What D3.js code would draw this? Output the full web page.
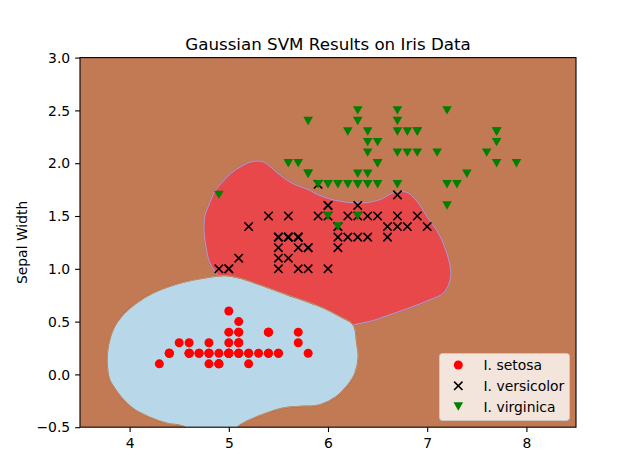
<!DOCTYPE html>
<html>
<head>
<meta charset="utf-8">
<script src="https://cdnjs.cloudflare.com/ajax/libs/d3/7.8.5/d3.min.js"></script>
<style>
html,body{margin:0;padding:0;background:#fff;}
svg{display:block;font-family:"DejaVu Sans",sans-serif;}
</style>
</head>
<body>
<div id="chart"></div>
<script>
// ---- data (x = sepal length, y = petal width) ----
const setosaX = [5.1,4.9,4.7,4.6,5.0,5.4,4.6,5.0,4.4,4.9,5.4,4.8,4.8,4.3,5.8,5.7,5.4,5.1,5.7,5.1,5.4,5.1,4.6,5.1,4.8,5.0,5.0,5.2,5.2,4.7,4.8,5.4,5.2,5.5,4.9,5.0,5.5,4.9,4.4,5.1,5.0,4.5,4.4,5.0,5.1,4.8,5.1,4.6,5.3,5.0];
const setosaY = [0.2,0.2,0.2,0.2,0.2,0.4,0.3,0.2,0.2,0.1,0.2,0.2,0.1,0.1,0.2,0.4,0.4,0.3,0.3,0.3,0.2,0.4,0.2,0.5,0.2,0.2,0.4,0.2,0.2,0.2,0.2,0.4,0.1,0.2,0.1,0.2,0.2,0.1,0.2,0.2,0.3,0.3,0.2,0.6,0.4,0.3,0.2,0.2,0.2,0.2];
const versicolorX = [7.0,6.4,6.9,5.5,6.5,5.7,6.3,4.9,6.6,5.2,5.0,5.9,6.0,6.1,5.6,6.7,5.6,5.8,6.2,5.6,5.9,6.1,6.3,6.1,6.4,6.6,6.8,6.7,6.0,5.7,5.5,5.5,5.8,6.0,5.4,6.0,6.7,6.3,5.6,5.5,5.5,6.1,5.8,5.0,5.6,5.7,5.7,6.2,5.1,5.7];
const versicolorY = [1.4,1.5,1.5,1.3,1.5,1.3,1.6,1.0,1.3,1.4,1.0,1.5,1.0,1.4,1.3,1.4,1.5,1.0,1.5,1.1,1.8,1.3,1.5,1.2,1.3,1.4,1.4,1.7,1.5,1.0,1.1,1.0,1.2,1.6,1.5,1.6,1.5,1.3,1.3,1.3,1.2,1.4,1.2,1.0,1.3,1.2,1.3,1.3,1.1,1.3];
const virginicaX = [6.3,5.8,7.1,6.3,6.5,7.6,4.9,7.3,6.7,7.2,6.5,6.4,6.8,5.7,5.8,6.4,6.5,7.7,7.7,6.0,6.9,5.6,7.7,6.3,6.7,7.2,6.2,6.1,6.4,7.2,7.4,7.9,6.4,6.3,6.1,7.7,6.3,6.4,6.0,6.9,6.7,6.9,5.8,6.8,6.7,6.7,6.3,6.5,6.2,5.9];
const virginicaY = [2.5,1.9,2.1,1.8,2.2,2.1,1.7,1.8,1.8,2.5,2.0,1.9,2.1,2.0,2.4,2.3,1.8,2.2,2.3,1.5,2.3,2.0,2.0,1.8,2.1,1.8,1.8,1.8,2.1,1.6,1.9,2.0,2.2,1.5,1.4,2.3,2.4,1.8,1.8,2.1,2.4,2.3,1.9,2.3,2.5,2.3,1.9,2.0,2.3,1.8];

// ---- decision regions (boundary vertices, data units) ----
const setosaRegionX = [4.556,4.371,4.185,4.051,3.967,3.882,3.798,3.775,3.775,3.798,3.848,3.916,4.068,4.235,4.455,4.657,4.859,4.960,5.111,5.280,5.447,5.616,5.785,5.953,6.121,6.256,6.290,6.306,6.273,6.189,6.088,5.919,5.684,5.548,5.381,5.212,5.091,5.05,4.6];
const setosaRegionY = [-0.50,-0.462,-0.399,-0.336,-0.272,-0.177,-0.051,0.075,0.202,0.328,0.454,0.549,0.676,0.771,0.850,0.897,0.928,0.935,0.913,0.859,0.802,0.745,0.691,0.629,0.549,0.470,0.297,0.170,0.012,-0.115,-0.210,-0.288,-0.305,-0.320,-0.367,-0.431,-0.50,-0.6,-0.6];
const versicolorRegionX = [4.929,4.808,4.775,4.751,4.758,4.808,4.859,4.942,5.027,5.128,5.229,5.346,5.431,5.532,5.667,5.801,5.919,6.121,6.357,6.525,6.660,6.795,6.896,6.997,7.131,7.232,7.232,7.165,7.030,6.862,6.626,6.424,6.256,6.020,5.010];
const versicolorRegionY = [0.878,1.056,1.182,1.340,1.498,1.625,1.735,1.830,1.909,1.972,2.014,2.014,1.957,1.877,1.798,1.751,1.694,1.640,1.625,1.656,1.720,1.725,1.640,1.498,1.308,1.023,0.897,0.771,0.707,0.644,0.565,0.502,0.470,0.423,0.710];

const xTicks = [4,5,6,7,8];
const yTicks = [-0.5,0.0,0.5,1.0,1.5,2.0,2.5,3.0];
const legendLabels = ["I. setosa","I. versicolor","I. virginica"];

// ---- layout ----
const W = 640, H = 450;
const L = 80, R = 576, T = 57.6, B = 427.2;
const x = d3.scaleLinear().domain([3.5, 8.5]).range([L, R]);
const y = d3.scaleLinear().domain([-0.5, 3.0]).range([B, T]);

const svg = d3.select("#chart").append("svg").attr("width", W).attr("height", H);
svg.append("rect").attr("width", W).attr("height", H).attr("fill", "#fff");

svg.append("defs").append("clipPath").attr("id", "clip")
  .append("rect").attr("x", L).attr("y", T).attr("width", R - L).attr("height", B - T);

const plot = svg.append("g").attr("clip-path", "url(#clip)");
// virginica region = background
plot.append("rect").attr("x", L).attr("y", T).attr("width", R - L).attr("height", B - T).attr("fill", "#c17a53");

const poly = d3.line().x(d => x(d[0])).y(d => y(d[1])).curve(d3.curveCatmullRomClosed.alpha(0.5));

const redPts = versicolorRegionX.map((v, i) => [v, versicolorRegionY[i]]);
const bluePts = setosaRegionX.map((v, i) => [v, setosaRegionY[i]]);

plot.append("path").attr("d", poly(redPts)).attr("fill", "#e9484a")
  .attr("stroke", "#9a6a9a").attr("stroke-width", 1.6);
plot.append("path").attr("d", poly(redPts)).attr("fill", "none")
  .attr("stroke", "#efb0b8").attr("stroke-width", 0.6);
plot.append("path").attr("d", poly(bluePts)).attr("fill", "#b8d8e9")
  .attr("stroke", "#b0553a").attr("stroke-width", 1.4);
plot.append("path").attr("d", poly(bluePts)).attr("fill", "none")
  .attr("stroke", "#d8d89a").attr("stroke-width", 0.5);

// ---- points ----
const pts = plot.append("g");
pts.selectAll("circle.s").data(setosaX.map((v, i) => [v, setosaY[i]])).enter()
  .append("circle").attr("cx", d => x(d[0])).attr("cy", d => y(d[1])).attr("r", 4.5).attr("fill", "#ff0000");

const xs = 4.2;
pts.selectAll("path.v").data(versicolorX.map((v, i) => [v, versicolorY[i]])).enter()
  .append("path")
  .attr("d", d => { const cx = x(d[0]), cy = y(d[1]);
    return `M${cx-xs},${cy-xs}L${cx+xs},${cy+xs}M${cx-xs},${cy+xs}L${cx+xs},${cy-xs}`; })
  .attr("stroke", "#000").attr("stroke-width", 1.6).attr("fill", "none");

const tw = 4.8, th = 4.2;
pts.selectAll("path.g").data(virginicaX.map((v, i) => [v, virginicaY[i]])).enter()
  .append("path")
  .attr("d", d => { const cx = x(d[0]), cy = y(d[1]);
    return `M${cx-tw},${cy-th}L${cx+tw},${cy-th}L${cx},${cy+th}Z`; })
  .attr("fill", "#008000");

// ---- axes ----
const fs = 13.9;
const xAxis = svg.append("g").attr("transform", `translate(0,${B})`)
  .call(d3.axisBottom(x).tickValues(xTicks).tickFormat(d3.format("d")).tickSize(4.9).tickPadding(6));
const yAxis = svg.append("g").attr("transform", `translate(${L},0)`)
  .call(d3.axisLeft(y).tickValues(yTicks).tickFormat(d => d3.format(".1f")(d).replace("-", "\u2212")).tickSize(4.9).tickPadding(4.9));
[xAxis, yAxis].forEach(a => {
  a.select(".domain").remove();
  a.selectAll("line").attr("stroke", "#000").attr("stroke-width", 1.1);
  a.selectAll("text").attr("font-size", fs).attr("font-family", "DejaVu Sans").attr("fill", "#000");
});
yAxis.selectAll("text").attr("dy", "0.34em");

svg.append("rect").attr("x", L).attr("y", T).attr("width", R - L).attr("height", B - T)
  .attr("fill", "none").attr("stroke", "#000").attr("stroke-width", 1.1);

// ---- title & label ----
svg.append("text").attr("x", (L + R) / 2).attr("y", 49.5).attr("text-anchor", "middle")
  .attr("font-size", 16.7).text("Gaussian SVM Results on Iris Data");
svg.append("text").attr("transform", `translate(27,${(T + B) / 2}) rotate(-90)`)
  .attr("text-anchor", "middle").attr("font-size", fs).text("Sepal Width");

// ---- legend ----
const lg = svg.append("g");
lg.append("rect").attr("x", 439.5).attr("y", 353.5).attr("width", 130).attr("height", 67).attr("rx", 3)
  .attr("fill", "#fff").attr("fill-opacity", 0.8).attr("stroke", "#ccc").attr("stroke-opacity", 0.8);
const rowsY = [365, 385.8, 406.5];
const mx = 458.3;
lg.append("circle").attr("cx", mx).attr("cy", rowsY[0]).attr("r", 4.5).attr("fill", "#ff0000");
lg.append("path").attr("d", `M${mx-xs},${rowsY[1]-xs}L${mx+xs},${rowsY[1]+xs}M${mx-xs},${rowsY[1]+xs}L${mx+xs},${rowsY[1]-xs}`)
  .attr("stroke", "#000").attr("stroke-width", 1.6);
lg.append("path").attr("d", `M${mx-tw},${rowsY[2]-th}L${mx+tw},${rowsY[2]-th}L${mx},${rowsY[2]+th}Z`).attr("fill", "#008000");
legendLabels.forEach((t, i) => {
  lg.append("text").attr("x", 483.5).attr("y", rowsY[i]).attr("dy", "0.36em").attr("font-size", fs).text(t);
});
</script>
</body>
</html>
